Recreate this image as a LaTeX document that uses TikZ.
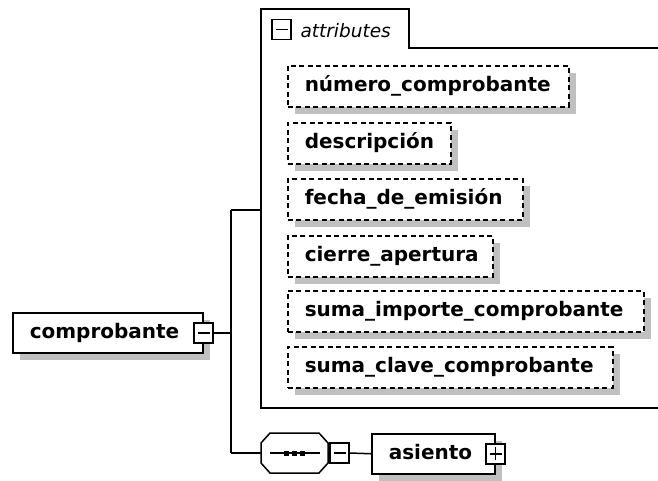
\documentclass[tikz,border=0pt]{standalone}
\usepackage{fontspec}
\setmainfont{DejaVu Sans}
\usetikzlibrary{shadows,calc}
\definecolor{shadowgray}{RGB}{192,192,192}
\begin{document}
\begin{tikzpicture}[x=1pt,y=-1pt,line width=1.5pt,
  elem/.style={draw, fill=white, line width=1.5pt, minimum height=41pt,
    inner xsep=17pt, inner ysep=0pt, text height=15pt, text depth=4pt,
    align=left, anchor=north west,
    font=\fontsize{20}{24}\selectfont\bfseries,
    drop shadow={shadow xshift=7pt, shadow yshift=-7pt, fill=shadowgray, draw=none, opacity=1}},
  attrelem/.style={elem, dash pattern=on 5pt off 3.5pt},
  iconbox/.style={draw, fill=white, line width=1.5pt, minimum width=19pt,
    minimum height=20pt, inner sep=0pt},
  minusicon/.style={iconbox, path picture={
    \draw[line width=1.5pt] ($(path picture bounding box.west)+(3.5pt,0pt)$) -- ($(path picture bounding box.east)+(-3.5pt,0pt)$);}},
  plusicon/.style={iconbox, path picture={
    \draw[line width=1.5pt] ($(path picture bounding box.west)+(3.5pt,0pt)$) -- ($(path picture bounding box.east)+(-3.5pt,0pt)$);
    \draw[line width=1.5pt] ($(path picture bounding box.north)+(0pt,-3.5pt)$) -- ($(path picture bounding box.south)+(0pt,3.5pt)$);}},
  plain/.style={inner sep=0pt, outer sep=0pt, minimum width=0pt, minimum height=0pt}
]
\useasboundingbox (0,0) rectangle (658,480);
\fill[white] (0,0) rectangle (658,480);

% attributes group
\node[plain, anchor=north west, minimum width=397pt, minimum height=399pt] (attrbox) at (261,9) {};
\node[plain, anchor=north west, minimum width=148pt, minimum height=39pt] (tab) at (261,9) {};
\draw (attrbox.south east) -- (attrbox.south west) -- (attrbox.north west)
  -- (tab.north east) -- (tab.south east) -- (tab.south east -| attrbox.east);
\node[minusicon] (tabicon) at (281.5,29.5) {};
\node[plain, anchor=base west, font=\fontsize{18.5}{22}\selectfont\itshape] (tabtext) at (300.5,37.5) {attributes};

% attributes
\node[attrelem, text width=247pt] (a1) at (287,65) {número\_comprobante};
\node[attrelem, text width=129pt] (a2) at (287,122) {descripción};
\node[attrelem, text width=201pt] (a3) at (287,178) {fecha\_de\_emisión};
\node[attrelem, text width=171pt] (a4) at (287,235) {cierre\_apertura};
\node[attrelem, text width=322pt] (a5) at (287,290) {suma\_importe\_comprobante};
\node[attrelem, text width=291pt] (a6) at (287,346) {suma\_clave\_comprobante};

% root element
\node[elem, minimum height=40pt, text width=156pt] (comp) at (12,312) {comprobante};
\node[minusicon] (compicon) at (comp.east) {};

% sequence
\node[plain, anchor=north west, minimum width=67pt, minimum height=40pt] (seq) at (261,433) {};
\begin{scope}[shift={(7,7)}]
\fill[shadowgray] ($(seq.north west)+(9,0)$) -- ($(seq.north east)+(-9,0)$) -- ($(seq.north east)+(0,10)$)
  -- ($(seq.south east)+(0,-10)$) -- ($(seq.south east)+(-9,0)$) -- ($(seq.south west)+(9,0)$)
  -- ($(seq.south west)+(0,-10)$) -- ($(seq.north west)+(0,10)$) -- cycle;
\end{scope}
\draw[fill=white] ($(seq.north west)+(9,0)$) -- ($(seq.north east)+(-9,0)$) -- ($(seq.north east)+(0,10)$)
  -- ($(seq.south east)+(0,-10)$) -- ($(seq.south east)+(-9,0)$) -- ($(seq.south west)+(9,0)$)
  -- ($(seq.south west)+(0,-10)$) -- ($(seq.north west)+(0,10)$) -- cycle;
\draw ($(seq.west)+(9,0)$) -- ($(seq.east)+(-8,0)$);
\foreach \dx in {-8,0,8} {
  \fill ($(seq.center)+(\dx,0)+(-2.5,-2.5)$) rectangle ($(seq.center)+(\dx,0)+(2.5,2.5)$);
}
\node[minusicon] (seqicon) at ($(seq.east)+(11.5,0)$) {};

% asiento
\node[elem, minimum height=40pt, text width=89pt] (asiento) at (371,433) {asiento};
\node[plusicon] (asicon) at (asiento.east) {};

% connectors
\coordinate (j1) at (231,210);
\coordinate (j2) at (231,453);
\draw (compicon.east) -- (compicon.east -| j1);
\draw (j1) -- (j2);
\draw (j1) -- (j1 -| attrbox.west);
\draw (j2) -- (seq.west);
\draw (seqicon.east) -- (asiento.west);
\end{tikzpicture}
\end{document}
